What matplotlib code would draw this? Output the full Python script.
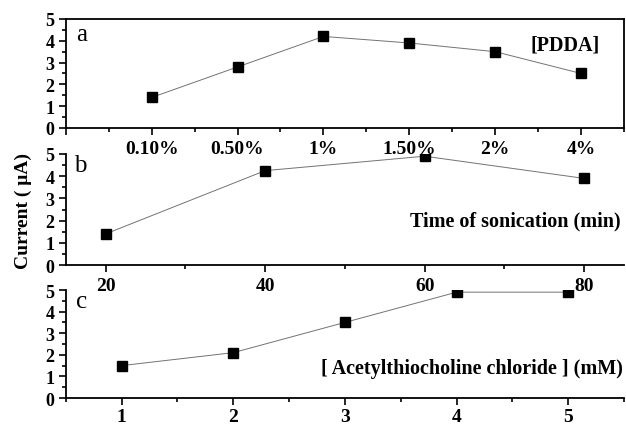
import matplotlib

matplotlib.use("Agg")
import matplotlib.pyplot as plt
from matplotlib.ticker import MultipleLocator

plt.rcParams["font.family"] = ["Liberation Serif", "DejaVu Serif"]

# panel a: PDDA concentration
pdda_labels = ["0.10%", "0.50%", "1%", "1.50%", "2%", "4%"]
pdda_current = [1.4, 2.8, 4.2, 3.9, 3.5, 2.5]

# panel b: sonication time
son_time = [20, 40, 60, 80]
son_current = [1.4, 4.25, 4.9, 3.9]

# panel c: acetylthiocholine chloride
atch_conc = [1, 2, 3, 4, 5]
atch_current = [1.5, 2.1, 3.5, 4.9, 4.9]

fig = plt.figure(figsize=(6.26, 4.31), dpi=100)
L, R = 0.105, 0.997
ax_a = fig.add_axes([L, 0.7007, R - L, 0.2529])
ax_b = fig.add_axes([L, 0.3828, R - L, 0.2576])
ax_c = fig.add_axes([L, 0.0742, R - L, 0.2506])

line_kw = dict(color="0.45", lw=0.7, marker="s", ms=6.5, mfc="black", mec="black")


def style(ax, xpad):
    ax.patch.set_visible(False)
    ax.set_ylim(0, 5)
    ax.yaxis.set_major_locator(MultipleLocator(1))
    ax.yaxis.set_minor_locator(MultipleLocator(0.5))
    ax.tick_params(axis="y", which="major", direction="out", length=5, width=1.2, pad=3,
                   labelsize=13)
    ax.tick_params(axis="y", which="minor", direction="out", length=3, width=1.2)
    ax.tick_params(axis="x", which="major", direction="out", length=5, width=1.2, pad=xpad,
                   labelsize=14)
    ax.tick_params(axis="x", which="minor", direction="out", length=3, width=1.2)
    for lab in ax.get_xticklabels() + ax.get_yticklabels():
        lab.set_fontweight("bold")
    for s in ax.spines.values():
        s.set_linewidth(1.3)


# a
xa = list(range(1, len(pdda_labels) + 1))
ax_a.plot(xa, pdda_current, **line_kw)
ax_a.set_xlim(0, 6.5)
ax_a.set_xticks([0] + xa)
ax_a.set_xticklabels([""] + pdda_labels)
ax_a.xaxis.set_minor_locator(MultipleLocator(0.5))
style(ax_a, 3.5)
ax_a.text(0.018, 0.86, "a", transform=ax_a.transAxes, fontsize=18, va="center")
ax_a.text(0.957, 0.77, "[PDDA]", transform=ax_a.transAxes, fontsize=14.5,
          fontweight="bold", ha="right", va="center")

# b
ax_b.plot(son_time, son_current, **line_kw)
ax_b.set_xlim(15, 85)
ax_b.set_xticks(son_time)
ax_b.xaxis.set_minor_locator(MultipleLocator(10))
style(ax_b, 3.5)
for s in ("top", "right"):
    ax_b.spines[s].set_visible(False)
ax_b.text(0.015, 0.9, "b", transform=ax_b.transAxes, fontsize=18, va="center")
ax_b.text(0.993, 0.4, "Time of sonication (min)", transform=ax_b.transAxes, fontsize=14.5,
          fontweight="bold", ha="right", va="center")
ax_b.set_ylabel("Current ( \u03bcA)", fontsize=14, fontweight="bold", labelpad=10)

# c
ax_c.plot(atch_conc, atch_current, **line_kw)
ax_c.set_xlim(0.5, 5.5)
ax_c.set_xticks(atch_conc)
ax_c.xaxis.set_minor_locator(MultipleLocator(0.5))
style(ax_c, 2)
for s in ("top", "right"):
    ax_c.spines[s].set_visible(False)
ax_c.text(0.018, 0.9, "c", transform=ax_c.transAxes, fontsize=18, va="center")
ax_c.text(0.998, 0.28, "[ Acetylthiocholine chloride ] (mM)", transform=ax_c.transAxes,
          fontsize=14.5, fontweight="bold", ha="right", va="center")

fig.savefig("out.png", dpi=100)
